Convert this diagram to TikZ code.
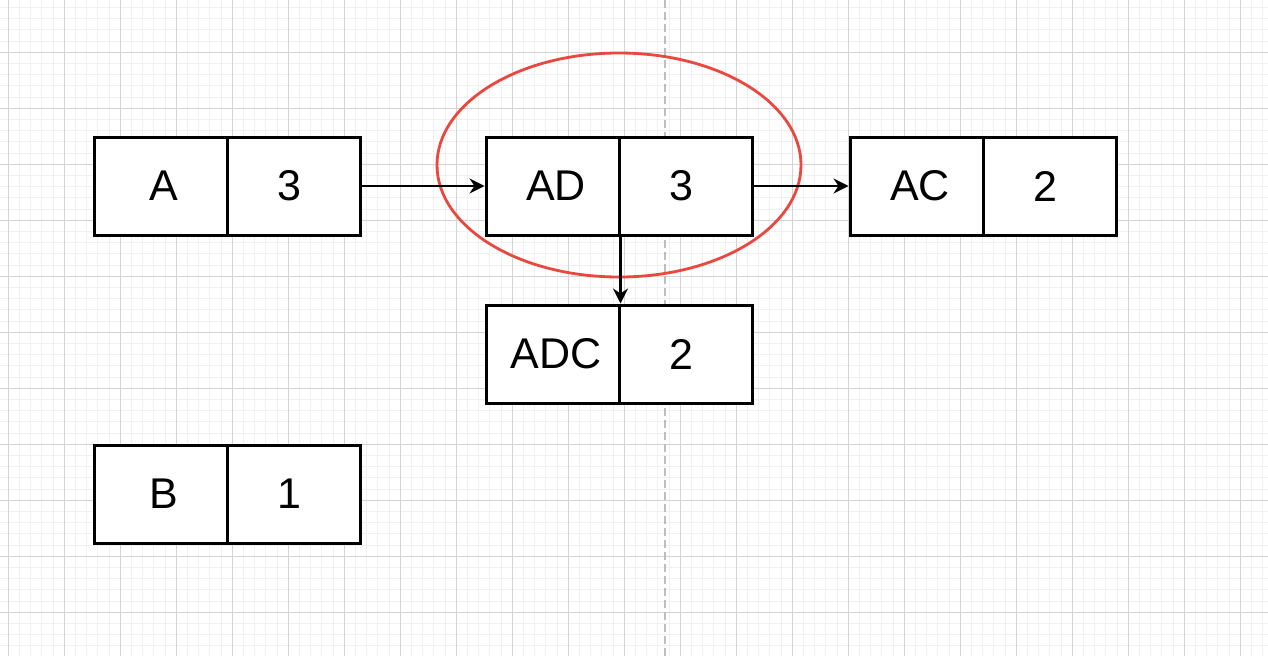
\documentclass[tikz,border=0pt]{standalone}
\usepackage{fontspec}
\setmainfont{Liberation Sans}
\usetikzlibrary{arrows.meta,shapes.geometric}
\definecolor{minorgrid}{RGB}{240,240,240}
\definecolor{majorgrid}{RGB}{212,212,212}
\definecolor{dashgray}{RGB}{190,190,190}
\definecolor{hlred}{RGB}{234,72,62}
\tikzset{
  cell/.style={draw=black, line width=3pt, fill=white, rectangle, inner sep=0pt,
    minimum width=133pt, minimum height=98pt, font=\fontsize{43}{50}\selectfont},
  lefttext/.style={xshift=3.5pt},
  righttext/.style={xshift=-4.5pt},
  arr/.style={draw=black, line width=2.3pt, -{Stealth[length=15pt,width=15pt,inset=5pt]}},
  hlring/.style={draw=hlred, line width=2.8pt, ellipse, inner sep=0pt,
    minimum width=364pt, minimum height=224pt}
}
\begin{document}
\begin{tikzpicture}[x=1pt,y=-1pt]
\useasboundingbox (0,0) rectangle (1268,656);
\fill[white] (0,0) rectangle (1268,656);
% minor grid
\foreach \i in {0,...,112} {\draw[minorgrid, line width=1pt] ({8.3+11.2*\i},0) -- ({8.3+11.2*\i},656);}
\foreach \j in {0,...,57} {\draw[minorgrid, line width=1pt] (0,{7.5+11.2*\j}) -- (1268,{7.5+11.2*\j});}
% major grid
\foreach \i in {0,...,22} {\draw[majorgrid, line width=1pt] ({8.3+56*\i},0) -- ({8.3+56*\i},656);}
\foreach \j in {-1,...,10} {\draw[majorgrid, line width=1pt] (0,{52.3+56*\j}) -- (1268,{52.3+56*\j});}
% dashed guide
\coordinate (gtop) at (665,0);
\coordinate (gbot) at (665,656);
\draw[dashgray, line width=1.5pt, dash pattern=on 8pt off 4pt] (gtop) -- (gbot);
% boxes
\node[cell] (aL) at (160.5,186) {};
\node[cell] (aR) at (293.5,186) {};
\node[cell] (adL) at (552.5,186) {};
\node[cell] (adR) at (685.5,186) {};
\node[cell] (acL) at (916.5,186) {};
\node[cell] (acR) at (1049.5,186) {};
\node[cell] (adcL) at (552.5,354) {};
\node[cell] (adcR) at (685.5,354) {};
\node[cell] (bL) at (160.5,494) {};
\node[cell] (bR) at (293.5,494) {};
% labels
\begin{scope}[every node/.style={font=\fontsize{43}{50}\selectfont, inner sep=0pt}]
\node[lefttext] (taL) at (aL.center) {A};
\node[righttext] (taR) at (aR.center) {3};
\node[lefttext] (tadL) at (adL.center) {AD};
\node[righttext] (tadR) at (adR.center) {3};
\node[lefttext] (tacL) at (acL.center) {AC};
\node[righttext] (tacR) at (acR.center) {2};
\node[lefttext] (tadcL) at (adcL.center) {ADC};
\node[righttext] (tadcR) at (adcR.center) {2};
\node[lefttext] (tbL) at (bL.center) {B};
\node[righttext] (tbR) at (bR.center) {1};
\end{scope}
% highlight ring
\node[hlring] (ring) at (619,165) {};
% connectors
\draw[arr] (aR.east) -- (adL.west);
\draw[arr] (adR.east) -- (acL.west);
\draw[arr] (adL.south east) -- (adcL.north east);
\end{tikzpicture}
\end{document}
